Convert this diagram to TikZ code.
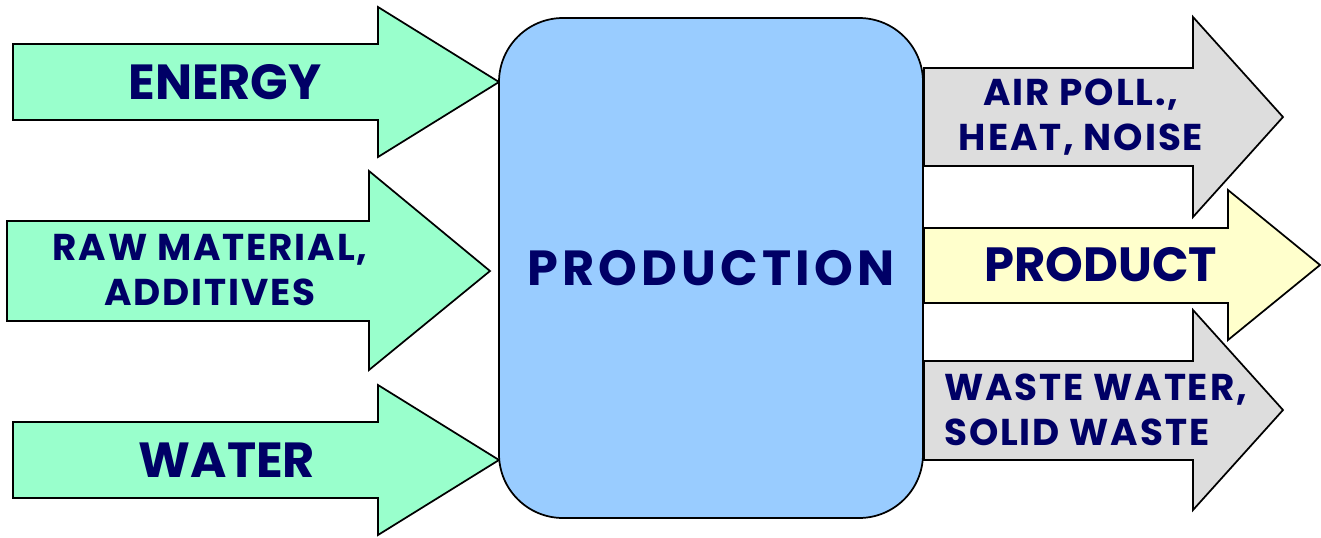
\documentclass[tikz,border=0pt]{standalone}
\usepackage{fontspec}
\setmainfont{Poppins}[BoldFont={* Bold}]
\definecolor{inflow}{HTML}{99FFCC}
\definecolor{plant}{HTML}{99CCFF}
\definecolor{emission}{HTML}{DDDDDD}
\definecolor{output}{HTML}{FFFFCC}
\definecolor{ink}{HTML}{000066}
\tikzset{
  flow/.style={draw=black, line width=1.3pt, line join=miter},
  biglabel/.style={text=ink, font=\bfseries\fontsize{37}{44}\selectfont, inner sep=0pt},
  smalllabel/.style={text=ink, font=\bfseries\fontsize{28}{34}\selectfont\addfontfeature{LetterSpace=5}, inner sep=0pt},
}
\begin{document}
\begin{tikzpicture}[x=0.75pt, y=-0.75pt]
\useasboundingbox (0,0) rectangle (1321,537);

% input arrows
\draw[flow, fill=inflow] (13,44) -- (378,44) -- (378,7) -- (499,82) -- (378,157) -- (378,120) -- (13,120) -- cycle;
\draw[flow, fill=inflow] (7,221) -- (369,221) -- (369,171) -- (490,271) -- (369,370) -- (369,321) -- (7,321) -- cycle;
\draw[flow, fill=inflow] (13,422) -- (378,422) -- (378,385) -- (499,460) -- (378,535) -- (378,498) -- (13,498) -- cycle;

% output arrows
\draw[flow, fill=emission] (924,68) -- (1193,68) -- (1193,17) -- (1283,117) -- (1193,217) -- (1193,166) -- (924,166) -- cycle;
\draw[flow, fill=output] (924,228) -- (1228,228) -- (1228,190) -- (1320,265) -- (1228,340) -- (1228,303) -- (924,303) -- cycle;
\draw[flow, fill=emission] (924,361) -- (1193,361) -- (1193,310) -- (1283,410) -- (1193,510) -- (1193,460) -- (924,460) -- cycle;

% production block
\draw[flow, fill=plant, rounded corners=48pt] (499,18) rectangle (923,518);

% labels
\node[biglabel] (energy) at (225,82) {ENERGY};
\node[smalllabel, align=center] (raw) at (210,270) {RAW MATERIAL,\\ADDITIVES};
\node[biglabel] (water) at (227,460) {WATER};
\node[biglabel, font=\bfseries\fontsize{37}{44}\selectfont\addfontfeature{LetterSpace=8.5}] (production) at (711,268) {PRODUCTION};
\node[smalllabel, align=center] (air) at (1081,117) {AIR POLL.,\\HEAT, NOISE};
\node[biglabel, font=\bfseries\fontsize{36}{44}\selectfont] (product) at (1101,265) {PRODUCT};
\node[smalllabel, align=left, anchor=west] (waste) at (944,410) {WASTE WATER,\\SOLID WASTE};
\end{tikzpicture}
\end{document}
